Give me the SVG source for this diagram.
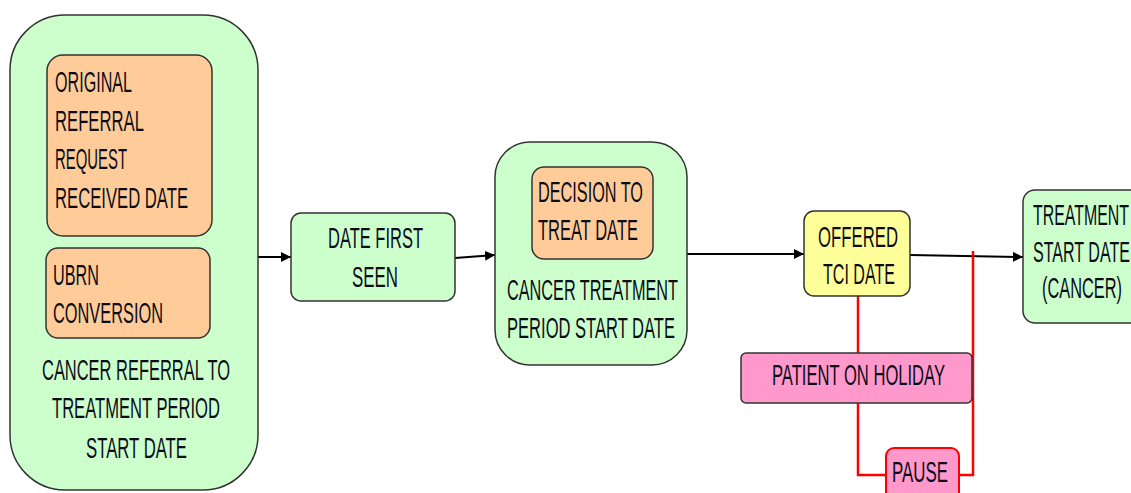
<svg xmlns="http://www.w3.org/2000/svg" width="1131" height="493" viewBox="0 0 1131 493">
  <style>
    .box { stroke: #333; stroke-width: 1.5; }
    .green { fill: #CCFFCC; }
    .orange { fill: #FFCC99; }
    .yellow { fill: #FFFF99; }
    .pink { fill: #FF99CC; }
    .pause { fill: #FF99CC; stroke: #FF0000; stroke-width: 2; }
    text { font-family: "Liberation Sans", Arial, sans-serif; font-size: 29px; fill: #0d0d1a; }
    .flow { stroke: #000; stroke-width: 2; fill: none; marker-end: url(#arrow); }
    .stop { stroke: #FF0000; stroke-width: 2.5; fill: none; }
  </style>
  <defs>
    <marker id="arrow" viewBox="0 0 10 10" refX="10" refY="5" markerWidth="5" markerHeight="5" orient="auto" markerUnits="strokeWidth">
      <path d="M0,0 L10,5 L0,10 z" fill="#000"/>
    </marker>
  </defs>

  <rect width="1131" height="493" fill="#fff"/>

  <!-- connectors -->
  <g id="connectors">
    <line class="flow" x1="258" y1="257" x2="291" y2="257"/>
    <line class="flow" x1="455" y1="258" x2="495" y2="255"/>
    <line class="flow" x1="687" y1="254" x2="804" y2="254"/>
    <line class="flow" x1="910" y1="255" x2="1023" y2="257"/>
    <polyline class="stop" points="858,296 858,353"/>
    <polyline class="stop" points="858,403 858,475 886,475"/>
    <polyline class="stop" points="973,251 973,475 959,475"/>
  </g>

  <!-- referral period container -->
  <g id="referral-period">
    <rect class="box green" x="10" y="15" width="248" height="475" rx="55" ry="55"/>
    <text x="42" y="380" textLength="188" lengthAdjust="spacingAndGlyphs">CANCER REFERRAL TO</text>
    <text x="52" y="418" textLength="168" lengthAdjust="spacingAndGlyphs">TREATMENT PERIOD</text>
    <text x="86" y="458" textLength="101" lengthAdjust="spacingAndGlyphs">START DATE</text>
  </g>

  <g id="original-referral">
    <rect class="box orange" x="47" y="55" width="165" height="181" rx="16" ry="16"/>
    <text x="55" y="92" textLength="77" lengthAdjust="spacingAndGlyphs">ORIGINAL</text>
    <text x="55" y="131" textLength="89" lengthAdjust="spacingAndGlyphs">REFERRAL</text>
    <text x="55" y="169" textLength="72" lengthAdjust="spacingAndGlyphs">REQUEST</text>
    <text x="55" y="208" textLength="133" lengthAdjust="spacingAndGlyphs">RECEIVED DATE</text>
  </g>

  <g id="ubrn-conversion">
    <rect class="box orange" x="46" y="248" width="164" height="90" rx="12" ry="12"/>
    <text x="53" y="285" textLength="46" lengthAdjust="spacingAndGlyphs">UBRN</text>
    <text x="53" y="323" textLength="110" lengthAdjust="spacingAndGlyphs">CONVERSION</text>
  </g>

  <g id="date-first-seen">
    <rect class="box green" x="291" y="213" width="164" height="88" rx="10" ry="10"/>
    <text x="328" y="248" textLength="95" lengthAdjust="spacingAndGlyphs">DATE FIRST</text>
    <text x="352" y="287" textLength="46" lengthAdjust="spacingAndGlyphs">SEEN</text>
  </g>

  <g id="treatment-period">
    <rect class="box green" x="495" y="142" width="192" height="223" rx="35" ry="35"/>
    <text x="507" y="300" textLength="171" lengthAdjust="spacingAndGlyphs">CANCER TREATMENT</text>
    <text x="507" y="338" textLength="168" lengthAdjust="spacingAndGlyphs">PERIOD START DATE</text>
  </g>

  <g id="decision-to-treat">
    <rect class="box orange" x="532" y="167" width="121" height="92" rx="12" ry="12"/>
    <text x="538" y="202" textLength="105" lengthAdjust="spacingAndGlyphs">DECISION TO</text>
    <text x="538" y="240" textLength="100" lengthAdjust="spacingAndGlyphs">TREAT DATE</text>
  </g>

  <g id="offered-tci">
    <rect class="box yellow" x="804" y="211" width="106" height="85" rx="10" ry="10"/>
    <text x="818" y="247" textLength="80" lengthAdjust="spacingAndGlyphs">OFFERED</text>
    <text x="823" y="284" textLength="72" lengthAdjust="spacingAndGlyphs">TCI DATE</text>
  </g>

  <g id="patient-holiday">
    <rect class="box pink" x="741" y="353" width="231" height="50" rx="5" ry="5"/>
    <text x="772" y="385" textLength="173" lengthAdjust="spacingAndGlyphs">PATIENT ON HOLIDAY</text>
  </g>

  <g id="pause">
    <rect class="pause" x="886" y="448" width="73" height="60" rx="8" ry="8"/>
    <text x="892" y="482" textLength="56" lengthAdjust="spacingAndGlyphs">PAUSE</text>
  </g>

  <g id="treatment-start">
    <rect class="box green" x="1023" y="190" width="130" height="133" rx="12" ry="12"/>
    <text x="1033" y="225" textLength="96" lengthAdjust="spacingAndGlyphs">TREATMENT</text>
    <text x="1033" y="262" textLength="97" lengthAdjust="spacingAndGlyphs">START DATE</text>
    <text x="1042" y="298" textLength="80" lengthAdjust="spacingAndGlyphs">(CANCER)</text>
  </g>
</svg>
